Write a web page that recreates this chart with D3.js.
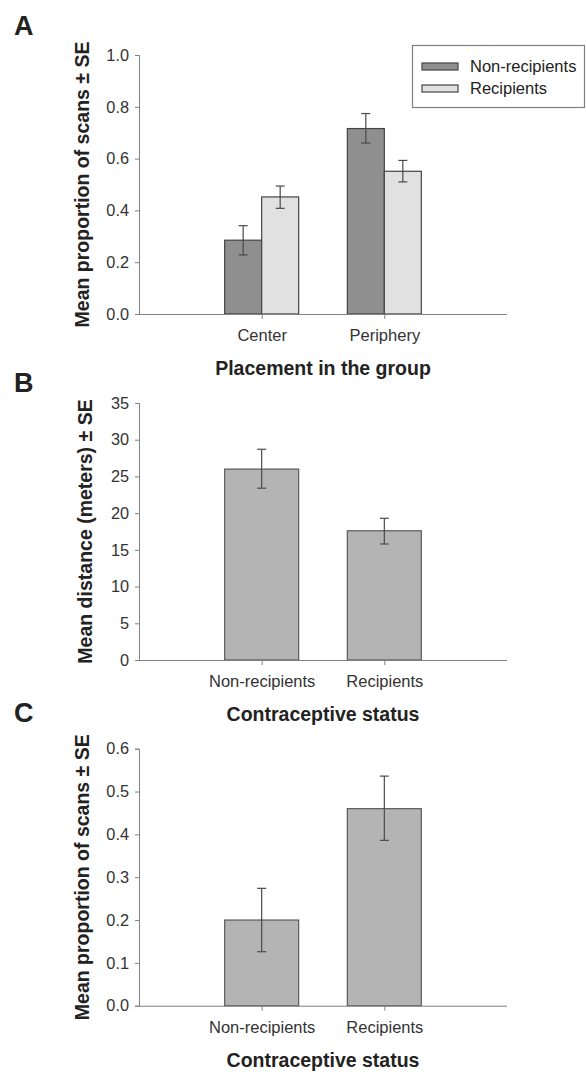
<!DOCTYPE html>
<html>
<head>
<meta charset="utf-8">
<script src="https://cdn.jsdelivr.net/npm/d3@7"></script>
<style>
  body { margin: 0; background: #fff; }
  svg text { font-family: "Liberation Sans", Arial, sans-serif; fill: #222; }
  .tick text { font-size: 16.3px; fill: #333; }
  .axis path, .axis line { stroke: #808080; }
</style>
</head>
<body>
<div id="chart"></div>
<script>
// Panel A: placement in the group
const placeCats = ['Center', 'Periphery'];
const placeSeries = ['Non-recipients', 'Recipients'];
const placeMean = [[0.285, 0.452], [0.716, 0.551]];   // [category][series]
const placeLow  = [[0.228, 0.408], [0.660, 0.510]];
const placeHigh = [[0.341, 0.494], [0.774, 0.593]];
const placeTicks = [0, 0.2, 0.4, 0.6, 0.8, 1.0];

// Panel B: mean distance
const statusCats = ['Non-recipients', 'Recipients'];
const distMean = [26.0, 17.6];
const distLow  = [23.4, 15.8];
const distHigh = [28.7, 19.3];
const distTicks = [0, 5, 10, 15, 20, 25, 30, 35];

// Panel C: proportion of scans
const scanMean = [0.200, 0.460];
const scanLow  = [0.126, 0.386];
const scanHigh = [0.274, 0.536];
const scanTicks = [0, 0.1, 0.2, 0.3, 0.4, 0.5, 0.6];

const W = 586, H = 1072;
const x0 = 139, x1 = 507;
const barW = 74, capW = 9;

const svg = d3.select('#chart').append('svg')
    .attr('width', W).attr('height', H);

function panel(opt) {
    const g = svg.append('g');

    const x = d3.scalePoint().domain(opt.cats).range([x0, x1]).padding(1);
    const y = d3.scaleLinear().domain([0, opt.max]).range([opt.bottom, opt.top]);

    // y axis
    g.append('g')
        .attr('class', 'axis')
        .attr('transform', 'translate(' + x0 + ',0)')
        .call(d3.axisLeft(y).tickValues(opt.ticks).tickFormat(d3.format(opt.fmt))
            .tickSize(4).tickSizeOuter(4).tickPadding(6));

    // bars
    opt.draw(g, x, y);

    // x axis
    const xa = g.append('g')
        .attr('class', 'axis')
        .attr('transform', 'translate(0,' + opt.bottom + ')')
        .call(d3.axisBottom(x).tickSize(5).tickSizeOuter(0).tickPadding(0));
    xa.select('.domain').attr('d', 'M' + x0 + ',0.5H' + x1);
    xa.selectAll('.tick text').attr('dy', null).attr('y', 27).style('font-size', '16.5px');

    // labels
    g.append('text')
        .attr('x', (x0 + x1) / 2).attr('y', opt.bottom + 61)
        .attr('text-anchor', 'middle')
        .style('font-weight', 'bold').style('font-size', '19.5px')
        .text(opt.xTitle);

    g.append('text')
        .attr('transform', 'translate(' + opt.yTitleX + ',' + (opt.top + opt.bottom) / 2 + ') rotate(-90)')
        .attr('text-anchor', 'middle')
        .style('font-weight', 'bold').style('font-size', '19.5px')
        .text(opt.yTitle);

    g.append('text')
        .attr('x', 14).attr('y', opt.letterY)
        .style('font-weight', 'bold').style('font-size', '27px')
        .text(opt.letter);
}

function errorBars(g, cx, lo, hi, y) {
    const eb = g.append('g').attr('stroke', '#4a4a4a').attr('stroke-width', 1.2);
    eb.append('line').attr('x1', cx).attr('x2', cx).attr('y1', y(lo)).attr('y2', y(hi));
    eb.append('line').attr('x1', cx - capW / 2).attr('x2', cx + capW / 2).attr('y1', y(lo)).attr('y2', y(lo));
    eb.append('line').attr('x1', cx - capW / 2).attr('x2', cx + capW / 2).attr('y1', y(hi)).attr('y2', y(hi));
}

const placeColors = d3.scaleOrdinal().domain(placeSeries).range(['#8f8f8f', '#e1e1e1']);

panel({
    letter: 'A', letterY: 35,
    top: 55, bottom: 314, max: 1.0, ticks: placeTicks, fmt: '.1f',
    cats: placeCats,
    xTitle: 'Placement in the group',
    yTitle: 'Mean proportion of scans \u00b1 SE', yTitleX: 89,
    draw: function (g, x, y) {
        const sub = d3.scaleBand().domain(placeSeries).range([-barW / 2, barW / 2]);
        placeCats.forEach(function (c, i) {
            placeSeries.forEach(function (s, j) {
                g.append('rect')
                    .attr('x', x(c) + sub(s))
                    .attr('y', y(placeMean[i][j]))
                    .attr('width', sub.bandwidth())
                    .attr('height', y(0) - y(placeMean[i][j]))
                    .attr('fill', placeColors(s))
                    .attr('stroke', '#444').attr('stroke-width', 1.2);
            });
            placeSeries.forEach(function (s, j) {
                errorBars(g, x(c) + sub(s) + sub.bandwidth() / 2, placeLow[i][j], placeHigh[i][j], y);
            });
        });

        // legend
        const lg = g.append('g');
        lg.append('rect')
            .attr('x', 412.5).attr('y', 45.5).attr('width', 172).attr('height', 62)
            .attr('fill', '#fff').attr('stroke', '#808080').attr('stroke-width', 1.2);
        placeSeries.forEach(function (s, j) {
            lg.append('rect')
                .attr('x', 422).attr('y', 63 + j * 22).attr('width', 36).attr('height', 7)
                .attr('fill', placeColors(s)).attr('stroke', '#444').attr('stroke-width', 1.2);
            lg.append('text')
                .attr('x', 470).attr('y', 72 + j * 21.5)
                .style('font-size', '16.5px')
                .text(s);
        });
    }
});

panel({
    letter: 'B', letterY: 392,
    top: 403, bottom: 660, max: 35, ticks: distTicks, fmt: 'd',
    cats: statusCats,
    xTitle: 'Contraceptive status',
    yTitle: 'Mean distance (meters) \u00b1 SE', yTitleX: 92,
    draw: function (g, x, y) {
        statusCats.forEach(function (c, i) {
            g.append('rect')
                .attr('x', x(c) - barW / 2).attr('y', y(distMean[i]))
                .attr('width', barW).attr('height', y(0) - y(distMean[i]))
                .attr('fill', '#b4b4b4').attr('stroke', '#5a5a5a').attr('stroke-width', 1.2);
            errorBars(g, x(c), distLow[i], distHigh[i], y);
        });
    }
});

panel({
    letter: 'C', letterY: 722,
    top: 748.7, bottom: 1005.7, max: 0.6, ticks: scanTicks, fmt: '.1f',
    cats: statusCats,
    xTitle: 'Contraceptive status',
    yTitle: 'Mean proportion of scans \u00b1 SE', yTitleX: 89,
    draw: function (g, x, y) {
        statusCats.forEach(function (c, i) {
            g.append('rect')
                .attr('x', x(c) - barW / 2).attr('y', y(scanMean[i]))
                .attr('width', barW).attr('height', y(0) - y(scanMean[i]))
                .attr('fill', '#b4b4b4').attr('stroke', '#5a5a5a').attr('stroke-width', 1.2);
            errorBars(g, x(c), scanLow[i], scanHigh[i], y);
        });
    }
});
</script>
</body>
</html>
